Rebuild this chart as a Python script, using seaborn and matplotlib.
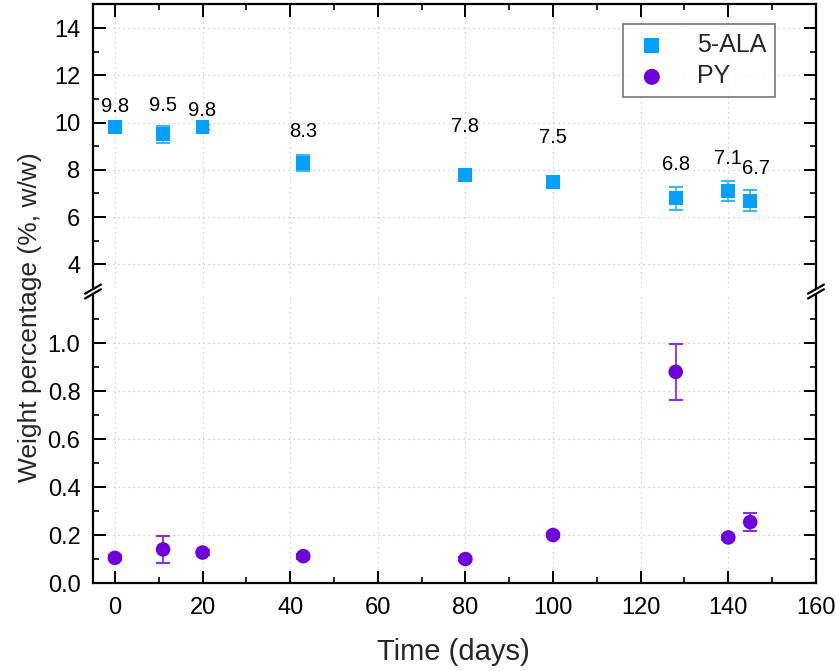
import numpy as np
import pandas as pd
import matplotlib
matplotlib.use("Agg")
import matplotlib.pyplot as plt
from matplotlib.ticker import MultipleLocator, FormatStrFormatter, FixedLocator
import seaborn as sns

# sampling days (same for both compounds)
days = [0, 11, 20, 43, 80, 100, 128, 140, 145]

# 5-ALA content (%, w/w) and error
ala_mean = [9.8, 9.5, 9.8, 8.3, 7.8, 7.5, 6.8, 7.1, 6.7]
ala_err = [0.08, 0.36, 0.10, 0.34, 0.08, 0.08, 0.48, 0.42, 0.44]
ala_labels = ["9.8", "9.5", "9.8", "8.3", "7.8", "7.5", "6.8", "7.1", "6.7"]

# PY content (%, w/w) and error
py_mean = [0.105, 0.14, 0.127, 0.112, 0.10, 0.20, 0.88, 0.19, 0.254]
py_err = [0.01, 0.056, 0.01, 0.01, 0.01, 0.01, 0.118, 0.01, 0.038]

# label placement above the squares (pixels)
label_dy = [21, 29, 17, 31, 48, 44, 34, 33, 32]
label_dx = [0, 0, 0, 0, 0, 0, 0, 0, 6]

blue = "#00A0FF"
purple = "#6E00DC"

df_ala = pd.DataFrame({"day": days, "value": ala_mean})
df_py = pd.DataFrame({"day": days, "value": py_mean})

sns.set_theme(style="ticks")
plt.rcParams['font.family'] = ['Liberation Sans', 'DejaVu Sans']

fig = plt.figure(figsize=(8.36, 6.71), dpi=100)
ax_top = fig.add_axes([0.1112, 0.5708, 0.8648, 0.4225])
ax_bot = fig.add_axes([0.1112, 0.1311, 0.8648, 0.4292])

# error bars first, markers on top
ax_top.errorbar(days, ala_mean, yerr=ala_err, fmt="none", ecolor="#3DB5FF",
                elinewidth=1.3, capsize=5, capthick=1.5, zorder=2)
ax_bot.errorbar(days, py_mean, yerr=py_err, fmt="none", ecolor="#8A2BE8",
                elinewidth=1.3, capsize=5, capthick=1.5, zorder=2)

sns.scatterplot(data=df_ala, x="day", y="value", ax=ax_top, marker="s", s=100,
                color=blue, edgecolor="none", linewidth=0, zorder=3, label="5-ALA")
sns.scatterplot(data=df_py, x="day", y="value", ax=ax_bot, marker="o", s=110,
                color=purple, edgecolor="none", linewidth=0, zorder=3, label="PY")
for a in (ax_top, ax_bot):
    if a.get_legend() is not None:
        a.get_legend().remove()

for d, v, t, dy, dx in zip(days, ala_mean, ala_labels, label_dy, label_dx):
    ax_top.annotate(t, (d, v), xytext=(dx, dy), textcoords="offset pixels",
                    ha="center", va="center", fontsize=14.5, color="black")

# axis ranges
for a in (ax_top, ax_bot):
    a.set_xlim(-5, 160)
    a.xaxis.set_major_locator(MultipleLocator(20))
    a.xaxis.set_minor_locator(MultipleLocator(10))
    a.grid(True, which="major", linestyle=(0, (1, 3)), color="#C4C4C4", linewidth=0.9)
    a.set_axisbelow(True)
    a.set_xlabel("")
    a.set_ylabel("")
    for s in a.spines.values():
        s.set_linewidth(1.6)
        s.set_color("black")
    a.tick_params(which="major", direction="in", length=9, width=1.4, color="black",
                  labelsize=17, labelcolor="black", right=True, top=True, pad=9)
    a.tick_params(which="minor", direction="in", length=4.5, width=1.2, color="black",
                  right=True, top=True)

ax_top.set_ylim(3, 15)
ax_top.yaxis.set_major_locator(FixedLocator([4, 6, 8, 10, 12, 14]))
ax_top.yaxis.set_minor_locator(FixedLocator([5, 7, 9, 11, 13]))
ax_top.spines["bottom"].set_visible(False)
ax_top.tick_params(which="both", bottom=False, labelbottom=False)

ax_bot.set_ylim(0, 1.2)
ax_bot.yaxis.set_major_locator(FixedLocator([0, 0.2, 0.4, 0.6, 0.8, 1.0]))
ax_bot.yaxis.set_minor_locator(FixedLocator([0.1, 0.3, 0.5, 0.7, 0.9, 1.1]))
ax_bot.yaxis.set_major_formatter(FormatStrFormatter("%.1f"))
ax_bot.spines["top"].set_visible(False)
ax_bot.tick_params(which="both", top=False)
ax_bot.tick_params(axis="x", which="major", pad=10)

# break marks on both side spines
kw = dict(color="black", linewidth=1.6, clip_on=False)
dx, dy = 0.011, 0.016
for xx in (0, 1):
    ax_top.plot([xx - dx, xx + dx], [-dy - 0.004, dy - 0.004], transform=ax_top.transAxes, **kw)
    ax_bot.plot([xx - dx, xx + dx], [1 - dy + 0.004, 1 + dy + 0.004], transform=ax_bot.transAxes, **kw)

# legend
h1, l1 = ax_top.get_legend_handles_labels()
h2, l2 = ax_bot.get_legend_handles_labels()
leg = fig.legend(h1 + h2, l1 + l2, loc="upper right", bbox_to_anchor=(0.927, 0.964),
                 fontsize=18, frameon=True, fancybox=False, edgecolor="#555555",
                 markerscale=1.1, handletextpad=1.0, handlelength=1.6,
                 borderpad=0.35, labelspacing=0.3, borderaxespad=0)
leg.get_frame().set_linewidth(1.2)

fig.text(0.542, 0.028, "Time (days)", ha="center", va="center", fontsize=21)
fig.text(0.036, 0.527, "Weight percentage (%, w/w)", ha="center", va="center",
         rotation=90, fontsize=19)

fig.savefig("out.png", dpi=100)
